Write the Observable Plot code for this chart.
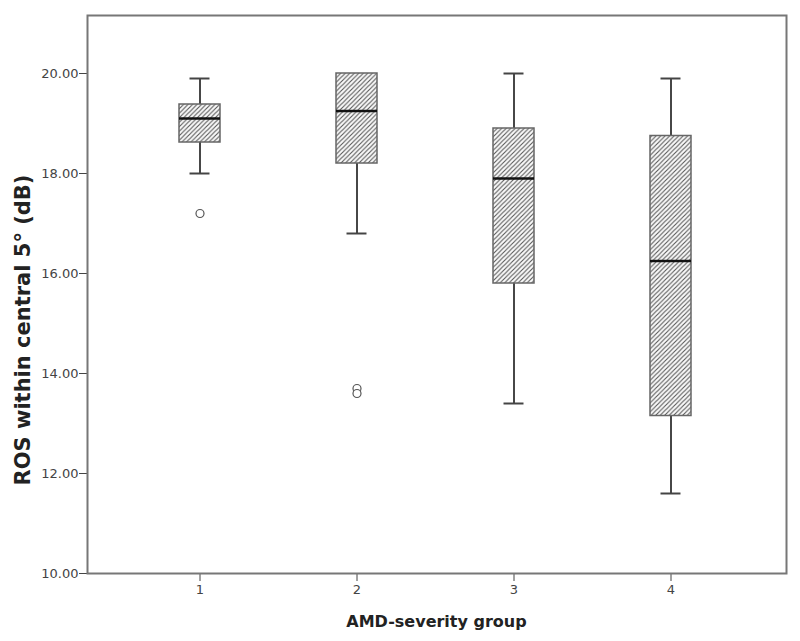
<!DOCTYPE html>
<html>
<head>
<meta charset="utf-8">
<script src="https://cdn.jsdelivr.net/npm/d3@7"></script>
<script src="https://cdn.jsdelivr.net/npm/@observablehq/plot@0.6"></script>
<style>
  html, body { margin: 0; padding: 0; background: #fff; }
  #chart svg { display: block; }
</style>
</head>
<body>
<div id="chart"></div>
<script>
// ---- data ----
const groups        = ["1", "2", "3", "4"];
const lowerWhisker  = [18.0, 16.8, 13.4, 11.6];
const q1            = [18.62, 18.2, 15.8, 13.15];
const medians       = [19.1, 19.25, 17.9, 16.25];
const q3            = [19.38, 20.0, 18.9, 18.75];
const upperWhisker  = [19.9, 20.0, 20.0, 19.9];
const outlierGroups = ["1", "2", "2"];
const outlierValues = [17.2, 13.7, 13.6];
const yTicks        = [10, 12, 14, 16, 18, 20];
const xLabel = "AMD-severity group";
const yLabel = "ROS within central 5° (dB)";

const boxes = groups.map((g, i) => ({
  group: g, lo: lowerWhisker[i], q1: q1[i], med: medians[i], q3: q3[i], hi: upperWhisker[i]
}));
const outliers = outlierGroups.map((g, i) => ({group: g, value: outlierValues[i]}));
const upperW = boxes.filter(d => d.hi > d.q3);
const lowerW = boxes.filter(d => d.lo < d.q1);

const W = 800, H = 641;
const font = "'DejaVu Sans', sans-serif";

const chart = Plot.plot({
  width: W,
  height: H,
  marginLeft: 87,
  marginRight: 14,
  marginTop: 15,
  marginBottom: 68,
  style: {fontFamily: font, fontSize: "13px", color: "#444", background: "#fff"},
  x: {type: "band", domain: groups, paddingInner: 0.738, paddingOuter: 0.59, align: 0.49,
      label: null, tickSize: 8, tickPadding: 3},
  y: {domain: [10, 21.16], ticks: yTicks, tickFormat: d3.format(".2f"),
      label: null, tickSize: 8, tickPadding: 1},
  marks: [
    Plot.frame({stroke: "#777", strokeWidth: 2}),
    Plot.ruleX(upperW, {x: "group", y1: "q3", y2: "hi", stroke: "#333", strokeWidth: 1.8}),
    Plot.ruleX(lowerW, {x: "group", y1: "q1", y2: "lo", stroke: "#333", strokeWidth: 1.8}),
    Plot.tickY(upperW, {x: "group", y: "hi", insetLeft: 10.5, insetRight: 10.5, stroke: "#444", strokeWidth: 2}),
    Plot.tickY(lowerW, {x: "group", y: "lo", insetLeft: 10.5, insetRight: 10.5, stroke: "#444", strokeWidth: 2}),
    Plot.barY(boxes, {x: "group", y1: "q1", y2: "q3", fill: "url(#hatch)", stroke: "#666", strokeWidth: 1.5}),
    Plot.tickY(boxes, {x: "group", y: "med", stroke: "#111", strokeWidth: 2.6}),
    Plot.dot(outliers, {x: "group", y: "value", r: 4, stroke: "#555", strokeWidth: 1.2, fill: "#fff"})
  ]
});

// hatch pattern for the boxes
const svg = d3.select(chart);
const defs = svg.insert("defs", ":first-child");
const pat = defs.append("pattern")
  .attr("id", "hatch")
  .attr("patternUnits", "userSpaceOnUse")
  .attr("width", 4.5).attr("height", 4.5);
pat.append("rect").attr("width", 4.5).attr("height", 4.5).attr("fill", "#fafafa");
pat.append("path")
  .attr("d", "M-1,1 L1,-1 M0,4.5 L4.5,0 M3.5,5.5 L5.5,3.5")
  .attr("stroke", "#555").attr("stroke-width", 1.1);

// axis titles
svg.append("text")
  .attr("x", (87 + (W - 14)) / 2).attr("y", 627)
  .attr("text-anchor", "middle")
  .attr("font-family", font).attr("font-weight", "bold").attr("font-size", 16)
  .attr("fill", "#222")
  .text(xLabel);
svg.append("text")
  .attr("transform", `translate(30,330) rotate(-90)`)
  .attr("text-anchor", "middle")
  .attr("font-family", font).attr("font-weight", "bold").attr("font-size", 21)
  .attr("fill", "#222")
  .text(yLabel);

document.getElementById("chart").appendChild(chart);
</script>
</body>
</html>
